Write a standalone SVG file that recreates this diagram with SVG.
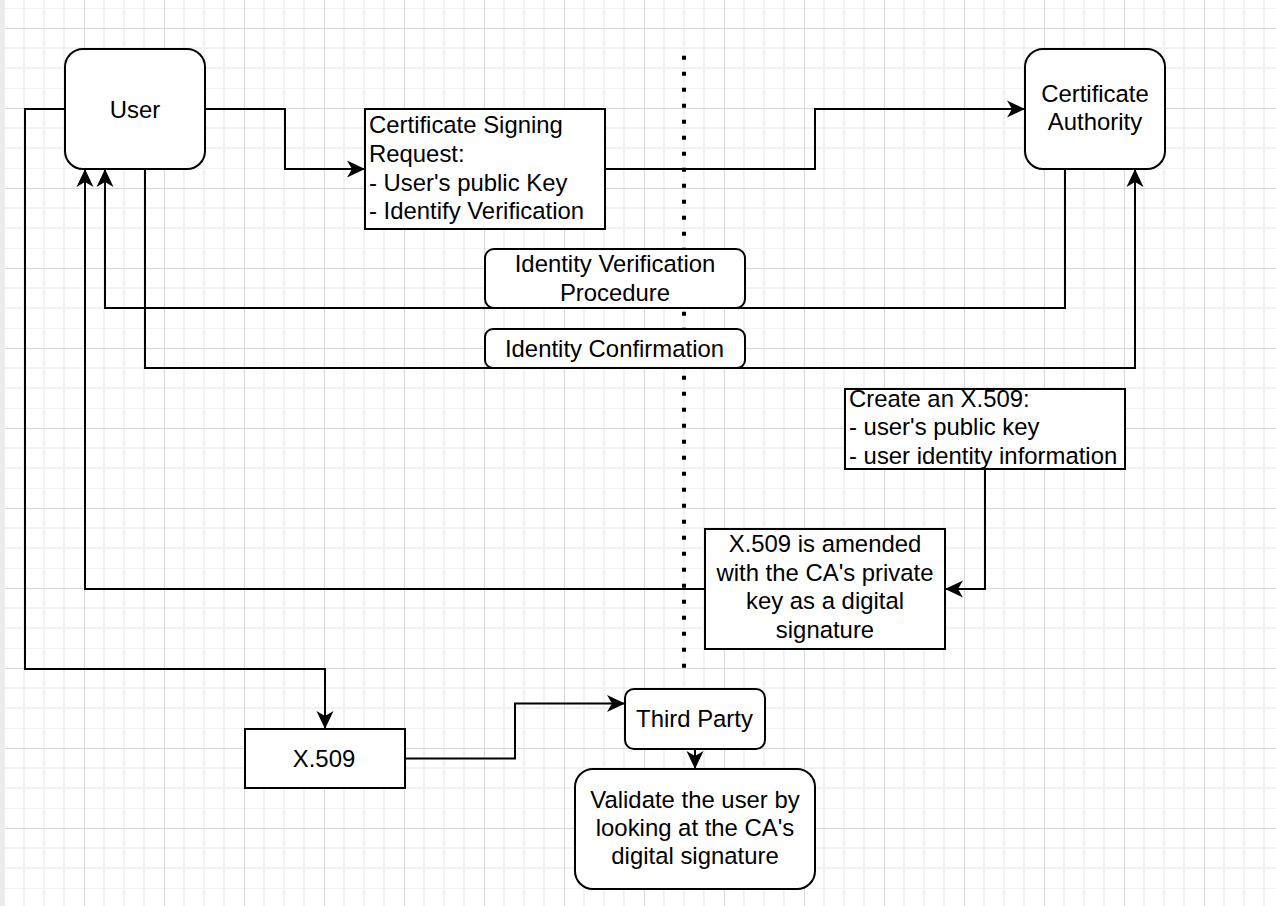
<svg xmlns="http://www.w3.org/2000/svg" width="1276" height="906" viewBox="0 0 1276 906">
  <style>
    .box { fill: #ffffff; stroke: #000000; stroke-width: 2; }
    .edge { fill: none; stroke: #000000; stroke-width: 2; marker-end: url(#arrow); }
    text { font-family: "Liberation Sans", Arial, Helvetica, sans-serif; font-size: 23.9px; fill: #000000; }
    .c { text-anchor: middle; }
  </style>
  <defs>
    <pattern id="grid" x="4" y="8" width="80" height="80" patternUnits="userSpaceOnUse">
      <path d="M20,0 V80 M40,0 V80 M60,0 V80 M0,0 H80 M0,40 H80 M0,60 H80" stroke="#f2f2f2" stroke-width="2" fill="none"/>
      <path d="M0.5,0 V80 M0,20.5 H80" stroke="#d6d6d6" stroke-width="1" fill="none"/>
    </pattern>
    <marker id="arrow" markerWidth="20" markerHeight="20" refX="18" refY="10" orient="auto" markerUnits="userSpaceOnUse">
      <path d="M18,10 L0,1.5 L5,10 L0,18.5 Z" fill="#000000"/>
    </marker>
  </defs>

  <!-- canvas background with grid -->
  <rect x="0" y="0" width="1276" height="906" fill="#ffffff"/>
  <rect x="0" y="0" width="1276" height="906" fill="url(#grid)"/>
  <rect x="0" y="0" width="5" height="906" fill="#ececec"/>

  <!-- dotted divider between user side and CA side -->
  <line x1="684" y1="55.7" x2="684" y2="668" stroke="#000000" stroke-width="4" stroke-dasharray="4 12"/>

  <g id="user">
    <rect class="box" x="65" y="49" width="140" height="120" rx="18" ry="18"/>
    <text class="c" x="135" y="117.5">User</text>
  </g>

  <g id="certificate-authority">
    <rect class="box" x="1025" y="49" width="140" height="120" rx="18" ry="18"/>
    <text class="c" x="1095" y="101.5">Certificate</text>
    <text class="c" x="1095" y="130">Authority</text>
  </g>

  <g id="csr">
    <rect class="box" x="365" y="109" width="240" height="120"/>
    <text x="369" y="133">Certificate Signing</text>
    <text x="369" y="161.5">Request:</text>
    <text x="369" y="190.5">- User's public Key</text>
    <text x="369" y="219">- Identify Verification</text>
  </g>

  <g id="identity-verification">
    <rect class="box" x="485" y="249" width="260" height="59" rx="9" ry="9"/>
    <text class="c" x="615" y="272">Identity Verification</text>
    <text class="c" x="615" y="300.5">Procedure</text>
  </g>

  <g id="identity-confirmation">
    <rect class="box" x="485" y="329" width="260" height="39" rx="8" ry="8"/>
    <text class="c" x="614.5" y="356.5">Identity Confirmation</text>
  </g>

  <g id="create-x509">
    <rect class="box" x="845" y="389" width="280" height="80"/>
    <text x="849" y="406.5">Create an X.509:</text>
    <text x="849" y="435">- user's public key</text>
    <text x="849" y="463.5">- user identity information</text>
  </g>

  <g id="amended-x509">
    <rect class="box" x="705" y="529" width="240" height="120"/>
    <text class="c" x="825" y="552">X.509 is amended</text>
    <text class="c" x="825" y="580.5">with the CA's private</text>
    <text class="c" x="825" y="609">key as a digital</text>
    <text class="c" x="825" y="637.5">signature</text>
  </g>

  <g id="x509">
    <rect class="box" x="245" y="729" width="160" height="59"/>
    <text class="c" x="324" y="766.5">X.509</text>
  </g>

  <g id="third-party">
    <rect class="box" x="625" y="689" width="140" height="60" rx="9" ry="9"/>
    <text class="c" x="694.5" y="726.5">Third Party</text>
  </g>

  <g id="validate">
    <rect class="box" x="575" y="769" width="240" height="120" rx="18" ry="18"/>
    <text class="c" x="695" y="807.5">Validate the user by</text>
    <text class="c" x="695" y="836">looking at the CA's</text>
    <text class="c" x="695" y="864">digital signature</text>
  </g>

  <g id="connectors">
    <path class="edge" d="M205,109 H285 V169 H365"/>
    <path class="edge" d="M605,169 H815 V109 H1025"/>
    <path class="edge" d="M1065,169 V308 H105 V169"/>
    <path class="edge" d="M145,169 V368 H1135 V169"/>
    <path class="edge" d="M985,469 V589 H945"/>
    <path class="edge" d="M705,589 H85 V169"/>
    <path class="edge" d="M65,109 H25 V669 H325 V729"/>
    <path class="edge" d="M405,758.5 H515 V703.5 H625"/>
    <path class="edge" d="M695,749 V769"/>
  </g>
</svg>
